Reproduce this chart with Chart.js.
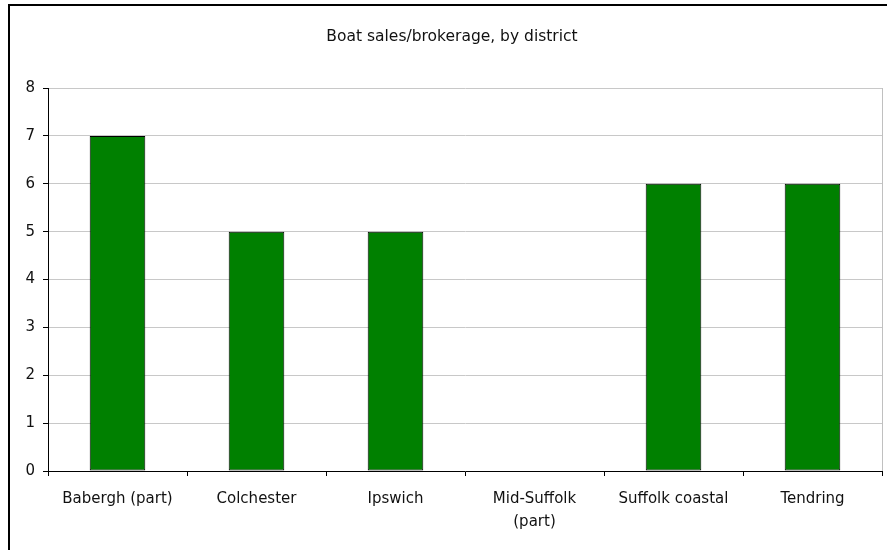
<!DOCTYPE html>
<html>
<head>
<meta charset="utf-8">
<script src="https://cdn.jsdelivr.net/npm/chart.js@4/dist/chart.umd.min.js"></script>
<style>
  html, body { margin: 0; padding: 0; background: #ffffff; }
  #wrap { width: 887px; height: 550px; position: relative; }
</style>
</head>
<body>
<div id="wrap"><canvas id="c" width="887" height="550"></canvas></div>
<script>
// Boat sales/brokerage businesses counted per district
const districts = ['Babergh (part)', 'Colchester', 'Ipswich', ['Mid-Suffolk', '(part)'], 'Suffolk coastal', 'Tendring'];
const businessCounts = [7, 5, 5, 0, 6, 6];
const yTickValues = [0, 1, 2, 3, 4, 5, 6, 7, 8];
const chartTitle = 'Boat sales/brokerage, by district';

const FONT = '"DejaVu Sans", Verdana, sans-serif';

// Outer frame, chart-area right edge and the title text
const decorations = {
  id: 'decorations',
  afterDraw(chart) {
    const ctx = chart.ctx;
    const area = chart.chartArea;
    ctx.save();
    ctx.strokeStyle = '#c0c0c0';
    ctx.lineWidth = 1;
    ctx.beginPath();
    ctx.moveTo(Math.round(area.right) + 0.5, area.top);
    ctx.lineTo(Math.round(area.right) + 0.5, area.bottom);
    ctx.stroke();

    ctx.strokeStyle = '#000000';
    ctx.lineWidth = 2;
    ctx.strokeRect(9, 5, 900, 560);

    ctx.fillStyle = '#111111';
    ctx.font = '15.5px ' + FONT;
    ctx.textAlign = 'center';
    ctx.textBaseline = 'middle';
    ctx.fillText(chartTitle, 452, 37);
    ctx.restore();
  }
};

new Chart(document.getElementById('c'), {
  type: 'bar',
  data: {
    labels: districts,
    datasets: [{
      data: businessCounts,
      backgroundColor: '#008000',
      borderColor: '#000000',
      borderWidth: 1,
      borderSkipped: false,
      categoryPercentage: 1.0,
      barPercentage: 0.4
    }]
  },
  options: {
    responsive: false,
    animation: false,
    devicePixelRatio: 1,
    layout: { padding: { left: 0, right: 5, top: 88, bottom: 0 } },
    plugins: {
      legend: { display: false },
      title: { display: false },
      tooltip: { enabled: false }
    },
    scales: {
      x: {
        grid: {
          offset: true,
          drawOnChartArea: false,
          drawTicks: true,
          tickLength: 5,
          tickColor: '#000000'
        },
        border: { color: '#000000', width: 1 },
        ticks: {
          color: '#111111',
          padding: 12,
          maxRotation: 0,
          autoSkip: false,
          font: { family: FONT, size: 15, lineHeight: 1.53 }
        },
        afterFit(scale) { scale.height = 79; }
      },
      y: {
        min: 0,
        max: 8,
        afterBuildTicks(scale) { scale.ticks = yTickValues.map(v => ({ value: v })); },
        grid: {
          color: '#c8c8c8',
          drawTicks: true,
          tickLength: 5,
          tickColor: '#000000'
        },
        border: { color: '#000000', width: 1 },
        ticks: {
          color: '#111111',
          padding: 8,
          font: { family: FONT, size: 15 }
        },
        afterFit(scale) { scale.width = 48; }
      }
    }
  },
  plugins: [decorations]
});
</script>
</body>
</html>
